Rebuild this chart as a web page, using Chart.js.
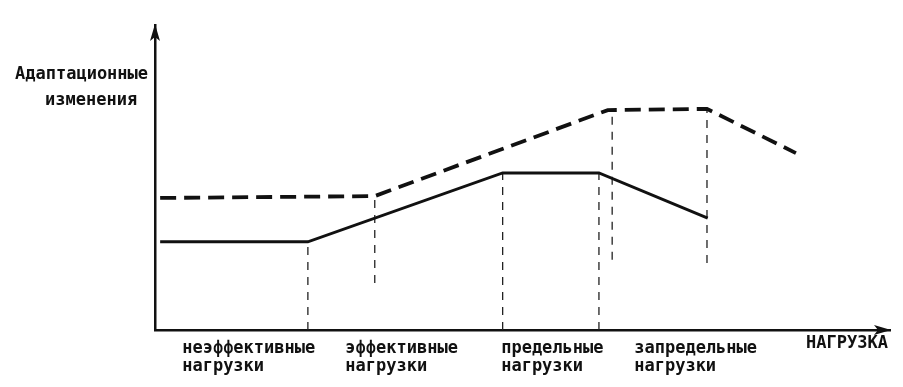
<!DOCTYPE html>
<html>
<head>
<meta charset="utf-8">
<script src="https://cdn.jsdelivr.net/npm/chart.js@4/dist/chart.umd.min.js"></script>
<style>
  html, body { margin: 0; padding: 0; background: #fff; }
  #wrap { width: 903px; height: 387px; }
</style>
</head>
<body>
<div id="wrap"><canvas id="c" width="903" height="387"></canvas></div>
<script>
// ---- data (abstract units: x 0..100 along the load axis, y 0..100 adaptation) ----
const solidX = [0.7, 20.8, 47.3, 60.4, 75.2];
const solidY = [28.9, 28.9, 51.5, 51.5, 36.7];
const dashedX = [0.7, 29.9, 61.6, 75.1, 87.2];
const dashedY = [43.3, 43.9, 72.1, 72.5, 58.0];
const guideX    = [20.8, 29.9, 47.3, 60.4, 62.2, 75.1];
const guideFrom = [0, 15.4, 0, 0, 23.0, 22.0];
const guideTo   = [28.9, 43.9, 51.5, 51.5, 72.1, 72.5];
const categoryLabels = [
  ["неэффективные", "нагрузки"],
  ["эффективные", "нагрузки"],
  ["предельные", "нагрузки"],
  ["запредельные", "нагрузки"]
];
const categoryStart = [3.7, 25.9, 47.1, 65.2];
const xTitle = "НАГРУЗКА";
const yTitle = ["Адаптационные", "изменения"];

const FONT = 'bold 17px "DejaVu Sans Mono", "Liberation Mono", monospace';
const INK = '#111';

const toPts = (xs, ys) => xs.map((x, i) => ({ x: x, y: ys[i] }));

const datasets = [
  { data: toPts(solidX, solidY), borderColor: INK, borderWidth: 3, pointRadius: 0, tension: 0 },
  { data: toPts(dashedX, dashedY), borderColor: INK, borderWidth: 3.8, borderDash: [16, 8], pointRadius: 0, tension: 0 }
];
guideX.forEach((gx, i) => {
  datasets.push({
    data: [{ x: gx, y: guideFrom[i] }, { x: gx, y: guideTo[i] }],
    borderColor: '#222', borderWidth: 1.3, borderDash: [8, 7], pointRadius: 0
  });
});

const decor = {
  id: 'decor',
  afterDraw(chart) {
    const { ctx, chartArea: a, scales: { x } } = chart;
    ctx.save();
    ctx.fillStyle = INK;
    // arrow heads
    ctx.beginPath();
    ctx.moveTo(a.left, a.top - 1);
    ctx.lineTo(a.left - 5, a.top + 16);
    ctx.lineTo(a.left, a.top + 12);
    ctx.lineTo(a.left + 5, a.top + 16);
    ctx.closePath();
    ctx.fill();
    ctx.beginPath();
    ctx.moveTo(a.right + 1, a.bottom);
    ctx.lineTo(a.right - 16, a.bottom - 5);
    ctx.lineTo(a.right - 12, a.bottom);
    ctx.lineTo(a.right - 16, a.bottom + 5);
    ctx.closePath();
    ctx.fill();
    // texts
    ctx.font = FONT;
    ctx.textBaseline = 'middle';
    ctx.textAlign = 'left';
    categoryLabels.forEach((lines, i) => {
      const px = x.getPixelForValue(categoryStart[i]);
      lines.forEach((t, j) => ctx.fillText(t, px, a.bottom + 19 + j * 18));
    });
    ctx.textAlign = 'right';
    ctx.fillText(xTitle, a.right - 2, a.bottom + 14);
    ctx.textAlign = 'left';
    ctx.fillText(yTitle[0], 15, 75);
    ctx.fillText(yTitle[1], 45, 101);
    ctx.restore();
  }
};

new Chart(document.getElementById('c'), {
  type: 'line',
  data: { datasets: datasets },
  options: {
    responsive: false,
    animation: false,
    events: [],
    layout: { padding: { left: 155, top: 25, right: 13, bottom: 57 } },
    plugins: { legend: { display: false }, tooltip: { enabled: false } },
    scales: {
      x: {
        type: 'linear', min: 0, max: 100,
        grid: { display: false, drawTicks: false },
        ticks: { display: false },
        border: { display: true, color: INK, width: 2.5 }
      },
      y: {
        type: 'linear', min: 0, max: 100,
        grid: { display: false, drawTicks: false },
        ticks: { display: false },
        border: { display: true, color: INK, width: 2.5 }
      }
    }
  },
  plugins: [decor]
});
</script>
</body>
</html>
